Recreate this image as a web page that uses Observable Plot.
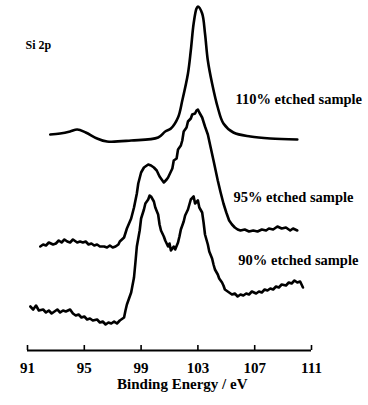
<!DOCTYPE html>
<html><head><meta charset="utf-8">
<script src="https://cdn.jsdelivr.net/npm/d3@7"></script>
<script src="https://cdn.jsdelivr.net/npm/@observablehq/plot@0.6"></script>
<style>html,body{margin:0;padding:0;background:#fff;} svg{display:block}</style>
</head><body><div id="chart"></div>
<script>
// Binding energy (eV) and intensity (a.u., curves stacked with offsets)
const energy110 = [92.6,93.3,94.0,94.5,95.1,95.9,96.6,98.3,100.2,100.7,101.1,101.6,101.9,102.3,102.5,102.7,102.9,103.0,103.3,103.5,103.7,104.0,104.4,104.8,105.5,106.7,108.1,110.0];
const counts110 = [216,217,219,221,218,212,209,210,213,219,222,233,250,277,300,327,342,344,337,317,290,267,243,227,218,214,212,211];

const energy95 = [91.9,92.1,92.3,92.5,92.8,93.0,93.2,93.4,93.6,93.8,94.0,94.2,94.5,94.7,94.9,95.1,95.3,95.5,95.7,95.9,96.1,96.4,96.6,96.8,97.0,97.2,97.4,97.5,97.8,98.0,98.3,98.5,98.7,98.8,99.0,99.2,99.5,99.7,99.9,100.1,100.3,100.5,100.6,100.8,100.9,101.1,101.2,101.3,101.5,101.6,101.8,101.9,102.0,102.2,102.3,102.5,102.6,102.8,102.9,103.0,103.1,103.3,103.5,103.7,103.9,104.1,104.4,104.6,104.8,105.0,105.2,105.4,105.6,105.8,106.0,106.3,106.6,106.9,107.2,107.5,107.8,108.0,108.3,108.6,108.9,109.2,109.5,109.7,110.0];
const counts95 = [104,106,105,108,106,107,110,108,111,109,108,111,108,109,108,109,106,107,105,106,104,104,103,105,103,104,106,109,113,122,132,143,157,167,178,183,186,185,183,180,174,170,168,171,173,179,182,190,192,201,205,210,219,223,229,232,236,237,240,241,238,233,224,216,203,190,170,158,147,138,130,126,123,121,120,121,119,120,119,121,120,122,121,124,122,123,120,122,120];

const energy90 = [91.2,91.4,91.6,91.8,92.1,92.3,92.5,92.7,92.9,93.1,93.3,93.5,93.7,94.0,94.2,94.4,94.6,94.8,95.0,95.2,95.4,95.6,95.9,96.1,96.3,96.5,96.7,96.9,97.1,97.3,97.5,97.8,97.9,98.0,98.3,98.5,98.6,98.7,98.9,99.0,99.2,99.3,99.5,99.6,99.7,99.9,100.0,100.2,100.3,100.4,100.6,100.7,100.9,101.0,101.1,101.3,101.4,101.6,101.7,101.8,102.0,102.1,102.3,102.4,102.5,102.7,102.8,103.0,103.1,103.3,103.4,103.5,103.7,103.8,104.0,104.1,104.2,104.4,104.5,104.7,104.8,104.9,105.2,105.4,105.6,105.8,106.0,106.2,106.4,106.6,106.8,107.1,107.3,107.5,107.7,107.9,108.1,108.3,108.5,108.7,108.9,109.2,109.4,109.6,109.8,110.0,110.2,110.4];
const counts90 = [44,41,45,40,41,38,40,37,39,41,38,40,39,41,37,35,36,33,34,31,32,30,31,28,29,26,28,27,29,27,30,33,40,46,58,73,88,104,120,132,141,147,151,155,154,149,143,136,126,120,114,110,104,107,100,104,101,108,114,121,129,135,141,146,151,154,147,150,143,138,128,116,106,99,92,86,81,76,72,68,65,61,58,56,57,54,56,55,57,56,59,57,59,58,61,60,62,61,64,63,66,65,68,67,70,68,69,63];

const sampleLabels = ["110% etched sample", "95% etched sample", "90% etched sample"];
const labelEnergy = [105.65, 105.5, 105.85];
const labelCounts = [251, 153, 90];

const tickValues = [91, 95, 99, 103, 107, 111];
const xTitle = "Binding Energy / eV";
const panelTitle = "Si 2p";

const toRows = (E, I) => E.map((e, k) => ({e, i: I[k]}));
const s110 = toRows(energy110, counts110);
const s95 = toRows(energy95, counts95);
const s90 = toRows(energy90, counts90);
const labels = sampleLabels.map((t, k) => ({t, e: labelEnergy[k], i: labelCounts[k]}));

const serif = "'Liberation Serif', 'DejaVu Serif', serif";
const chart = Plot.plot({
  width: 368, height: 405,
  marginLeft: 27, marginRight: 57, marginTop: 0, marginBottom: 55,
  x: {domain: [91, 111]},
  y: {domain: [0, 350], axis: null},
  style: {"font-family": serif, "font-weight": "bold", "background": "white", "color": "black"},
  marks: [
    Plot.ruleY([0], {strokeWidth: 2}),
    Plot.ruleX(tickValues, {y1: 0, y2: 5, strokeWidth: 1.6}),
    Plot.axisX(tickValues, {tickSize: 0, tickPadding: 12, fontSize: 15, fontFamily: serif, fontWeight: "bold", label: null, tickFormat: d => String(d)}),
    Plot.text([xTitle], {x: 101.9, frameAnchor: "bottom", dy: 38, text: d => d, fontSize: 15, fontFamily: serif, fontWeight: "bold"}),
    Plot.line(s110, {x: "e", y: "i", curve: "catmull-rom", strokeWidth: 2.6}),
    Plot.line(s95, {x: "e", y: "i", strokeWidth: 2.6}),
    Plot.line(s90, {x: "e", y: "i", strokeWidth: 2.6}),
    Plot.text(labels, {x: "e", y: "i", text: "t", textAnchor: "start", fontSize: 14.5, fontFamily: serif, fontWeight: "bold"}),
    Plot.text([panelTitle], {x: 90.86, y: 305, text: d => d, textAnchor: "start", fontSize: 12, fontFamily: serif, fontWeight: "bold"})
  ]
});
document.getElementById("chart").appendChild(chart);
</script>
</body></html>
